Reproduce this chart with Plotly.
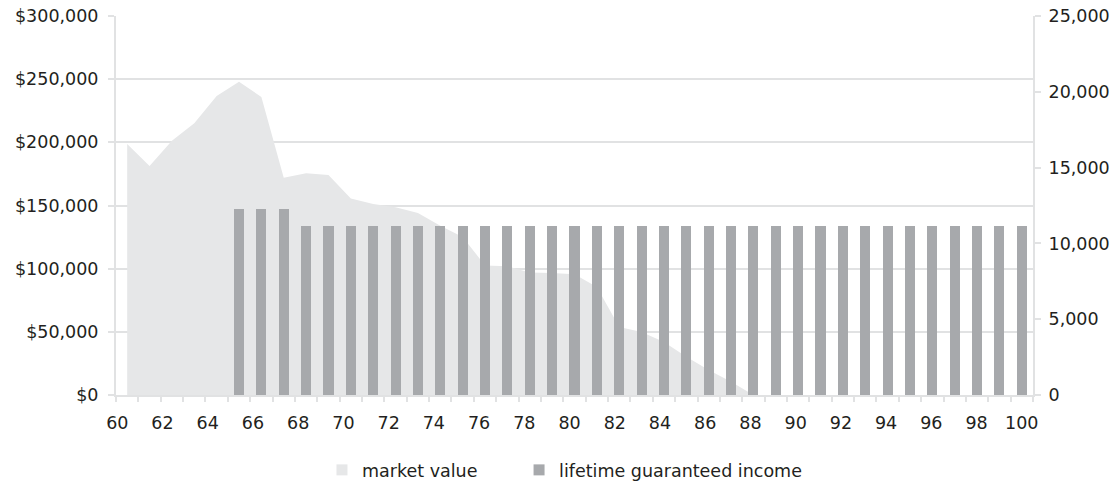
import plotly.graph_objects as go

ages = list(range(60, 101))
market_value = [198650, 181300, 201300, 215200, 236750, 247950, 235950, 172050, 175500, 174100,
                 155500, 151250, 148550, 144100, 134000, 125000, 102600, 101850, 96900, 96550,
                 95500, 85500, 53900, 49950, 42000, 30250, 19750, 10500, 0, 0,
                 0, 0, 0, 0, 0, 0, 0, 0, 0, 0, 0]
income_ages = list(range(65, 101))
income = [12250, 12250, 12250] + [11150] * 33
xtick_labels = list(range(60, 101, 2))
left_ticks = [0, 50000, 100000, 150000, 200000, 250000, 300000]
right_ticks = [0, 5000, 10000, 15000, 20000, 25000]

AREA = "#e6e7e8"
BAR = "#a7a9ac"
GRID = "#e1e2e3"
TEXT = "#231f20"
FONT = "DejaVu Sans"
FS = 17.5

fig = go.Figure()
fig.add_trace(go.Scatter(x=ages, y=market_value, mode="lines", fill="tozeroy",
                         fillcolor=AREA, line=dict(width=0, color=AREA),
                         showlegend=False, hoverinfo="skip"))
fig.add_trace(go.Bar(x=income_ages, y=income, yaxis="y2", marker=dict(color=BAR, line=dict(width=0)),
                     width=0.45, showlegend=False, hoverinfo="skip"))
# tick-label axis carrier
fig.add_trace(go.Scatter(x=[None], y=[None], xaxis="x2", yaxis="y", showlegend=False, hoverinfo="skip"))
# legend entries
fig.add_trace(go.Scatter(x=[None], y=[None], mode="markers", name="market value", legend="legend",
                         marker=dict(symbol="square", size=11, color=AREA)))
fig.add_trace(go.Scatter(x=[None], y=[None], mode="markers", name="lifetime guaranteed income",
                         legend="legend2", marker=dict(symbol="square", size=11, color=BAR)))

legend_common = dict(orientation="h", xref="container", yref="container",
                     y=0.0249, yanchor="middle", xanchor="left",
                     font=dict(family=FONT, size=FS, color=TEXT), itemclick=False,
                     bgcolor="rgba(0,0,0,0)")

fig.update_layout(
    width=1116, height=482,
    margin=dict(l=116, r=83, t=16, b=87),
    paper_bgcolor="white", plot_bgcolor="white",
    font=dict(family=FONT, size=FS, color=TEXT),
    bargap=0,
    xaxis=dict(range=[59.5, 100.5], tickmode="array",
               tickvals=[a - 0.5 for a in ages] + [100.5],
               ticktext=[""] * 42, ticks="outside", ticklen=5, tickwidth=2, tickcolor=GRID,
               showline=True, linecolor=GRID, linewidth=2, showgrid=False, zeroline=False,
               automargin=False),
    xaxis2=dict(overlaying="x", side="bottom", range=[59.943, 100.495], tickmode="array",
                tickvals=xtick_labels, ticktext=[str(v) for v in xtick_labels],
                ticks="", showline=False, showgrid=False, zeroline=False,
                ticklabelstandoff=15, automargin=False),
    yaxis=dict(range=[0, 300000], tickmode="array", tickvals=left_ticks,
               ticktext=["$" + format(v, ",") for v in left_ticks],
               ticks="outside", ticklen=6, tickwidth=2, tickcolor=GRID,
               showline=True, linecolor=GRID, linewidth=2, ticklabelstandoff=6,
               ticklabeloverflow="allow",
               showgrid=True, gridcolor=GRID, gridwidth=2, zeroline=False, automargin=False),
    yaxis2=dict(overlaying="y", side="right", range=[0, 25000], tickmode="array",
                tickvals=right_ticks, ticktext=[format(v, ",") for v in right_ticks],
                ticks="outside", ticklen=6, tickwidth=2, tickcolor=GRID,
                showline=True, linecolor=GRID, linewidth=2, showgrid=False, zeroline=False,
                ticklabelstandoff=4, ticklabeloverflow="allow", automargin=False),
    legend=dict(x=0.2885, **legend_common),
    legend2=dict(x=0.4651, **legend_common),
)

fig.write_html("out.html", config={"displayModeBar": False},
               post_script="document.body.style.margin='0px';")
